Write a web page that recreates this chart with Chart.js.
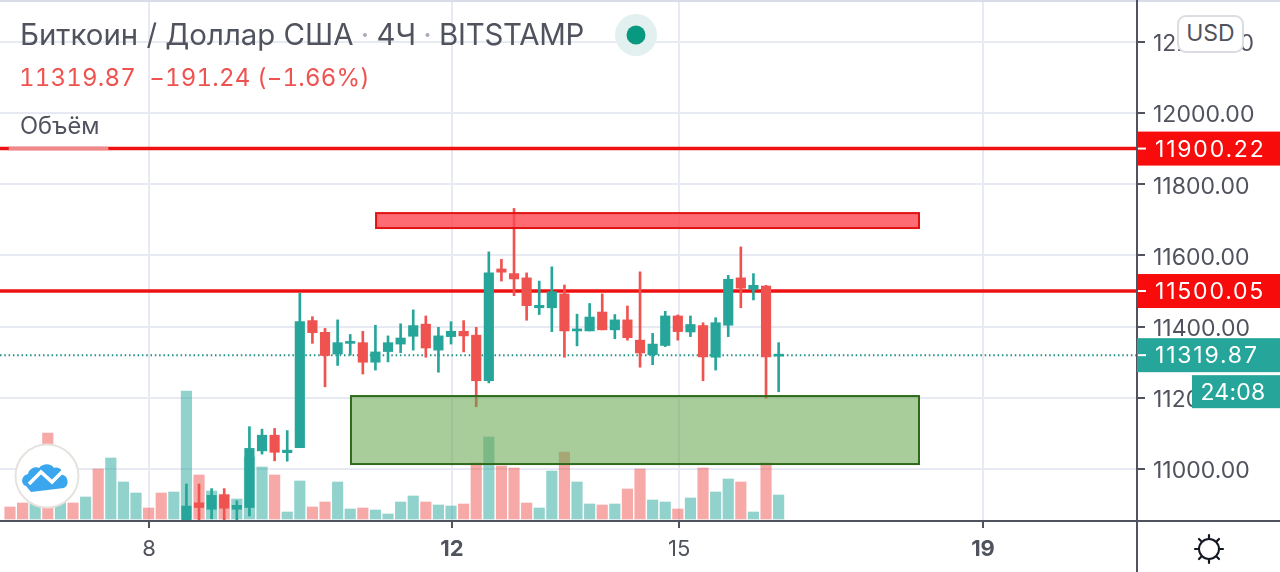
<!DOCTYPE html>
<html>
<head>
<meta charset="utf-8">
<script src="https://cdn.jsdelivr.net/npm/chart.js@4/dist/chart.umd.min.js"></script>
<style>
  html, body { margin: 0; padding: 0; background: #fff; }
  #wrap { position: relative; width: 1280px; height: 572px; overflow: hidden; font-family: Inter, Roboto, sans-serif; }
  canvas { position: absolute; left: 0; top: 0; }
  .txt { position: absolute; white-space: pre; color: #50535e; line-height: 1; }
  .sep { color: #a8abb5; margin: 0 -1px; }
  #usd { position: absolute; left: 1177px; top: 15px; width: 63px; height: 34px; border: 2px solid #dcdde2; border-radius: 9px; background: #fff; color: #50535e; font-size: 23px; line-height: 32px; text-align: center; }
  svg { position: absolute; }
</style>
</head>
<body>
<div id="wrap">
  <canvas id="chart" width="1280" height="572"></canvas>
  <div class="txt" style="left:20px;top:20px;font-size:29.4px">Биткоин / Доллар США <span class="sep">·</span> 4Ч <span class="sep">·</span> <span style="letter-spacing:-0.25px">BITSTAMP</span></div>
  <div class="txt" style="left:19px;top:66px;font-size:24px;color:#ef5350;font-variant-numeric:tabular-nums;letter-spacing:0.2px">11319.87  −191.24 (−1.66%)</div>
  <div class="txt" style="left:20px;top:114px;font-size:23.7px">Объём</div>
  <svg style="left:610px;top:9px" width="52" height="52">
    <circle cx="26" cy="26" r="21" fill="#e2f0ef"/>
    <circle cx="26" cy="26" r="9.5" fill="#089981"/>
  </svg>
  <svg style="left:10px;top:440px" width="74" height="74">
    <circle cx="37" cy="36" r="31.5" fill="#fff" stroke="#e6e2de" stroke-width="2"/>
    <g transform="translate(0,2)">
      <path d="M16 44 C11 43 10 34 18 32 C19 26 26 24 29 26 C33 21 41 21 44 26 C49 24 54 29 52 33 C58 33 60 43 54 46 L21 50 Z" fill="#3aa6ee"/>
      <path d="M19 42 L31 30 L42 40 L53 29" fill="none" stroke="#fff" stroke-width="3.5"/>
    </g>
  </svg>
  <div id="usd">USD</div>
  <svg style="left:1190px;top:530px" width="38" height="38">
    <circle cx="19" cy="19" r="10" fill="none" stroke="#131722" stroke-width="2"/>
    <g stroke="#131722" stroke-width="2.2" stroke-linecap="round">
      <line x1="19" y1="5" x2="19" y2="8"/><line x1="19" y1="30" x2="19" y2="33"/>
      <line x1="5" y1="19" x2="8" y2="19"/><line x1="30" y1="19" x2="33" y2="19"/>
      <line x1="9" y1="9" x2="11" y2="11"/><line x1="27" y1="27" x2="29" y2="29"/>
      <line x1="29" y1="9" x2="27" y2="11"/><line x1="11" y1="27" x2="9" y2="29"/>
    </g>
  </svg>
</div>

<script>
// bars are numbered from the left edge, 0..61. candles only start at bar 14
const firstCandle = 14;
const candleOpen = [10857,10905,10887,10928,10887,10892,11051,11095,11046,11060,11417,11384,11323,11353,11355,11300,11330,11351,11373,11407,11334,11372,11387,11376,11248,11562,11549,11537,11453,11453,11492,11388,11388,11441,11391,11419,11362,11321,11347,11430,11385,11403,11314,11404,11537,11505,11514,11317];
const candleClose = [10896,10892,10926,10890,10898,11058,11095,11047,11053,11414,11383,11319,11355,11358,11300,11329,11355,11368,11403,11340,11374,11387,11374,11248,11551,11553,11534,11459,11460,11498,11388,11393,11427,11391,11419,11369,11326,11351,11430,11386,11406,11315,11411,11533,11508,11516,11315,11320];
const candleHigh = [10958,10958,10945,10945,10911,11119,11112,11114,11108,11494,11428,11395,11419,11378,11387,11404,11374,11408,11447,11430,11398,11414,11417,11398,11610,11589,11732,11551,11528,11568,11517,11435,11465,11492,11434,11458,11554,11381,11443,11433,11430,11411,11425,11544,11624,11549,11516,11355];
const candleLow = [10854,10854,10860,10857,10857,10868,11042,11023,11022,11060,11353,11231,11291,11320,11267,11278,11301,11327,11334,11314,11272,11351,11329,11175,11242,11528,11487,11418,11434,11386,11314,11346,11388,11391,11366,11362,11286,11293,11344,11362,11372,11248,11278,11372,11453,11475,11199,11217];
const volumes = [12,16,16,86,17,16,22,50,61,37,26,11,26,27,128,44,28,24,20,62,52,44,7,38,12,17,37,10,11,9,5,17,23,17,14,13,15,56,82,53,51,16,11,48,67,37,15,14,15,30,50,19,17,10,21,51,27,40,37,7,56,24];
// volume colour of the bars left of the first candle (1 = up)
const earlyUp = [0,0,1,0,1,0,1,0,1,1,1,0,0,1];

const yTicks = [11000,11200,11400,11600,11800,12000,12200];
const xTickPositions = [11.03,35.08,53.1,77.22];
const xTickLabels = ["8","12","15","19"];
const xTickBold = ["12","19"];

const resistanceLevels = [11900.22,11500.05];
const lastPrice = 11319.87;
const countdown = "24:08";
const sellZone = { x0: 29.05, x1: 72.14, lo: 11677, hi: 11719 };
const buyZone = { x0: 27.06, x1: 72.14, lo: 11014, hi: 11205 };

const UP = "#26a69a", DOWN = "#ef5350";
const TEXT = "#50535e", GRID = "#e8eaf3", LEVEL = "#ee1111";
const xMin = -0.794, xMax = 89.44;
const FONT = "Inter, Roboto, sans-serif";

const candleIdx = candleOpen.map((_, i) => i + firstCandle);
const candleColors = candleOpen.map((o, i) => candleClose[i] >= o ? UP : DOWN);
const volumeColors = volumes.map((_, i) => {
  const up = i < firstCandle ? earlyUp[i] : candleClose[i - firstCandle] >= candleOpen[i - firstCandle];
  return up ? "rgba(38,166,154,0.5)" : "rgba(239,83,80,0.5)";
});

function flatLine(y, color, width, from, to, dash) {
  return {
    type: "line",
    data: [{ x: from, y: y }, { x: to, y: y }],
    borderColor: color,
    borderWidth: width,
    borderDash: dash || [],
    pointRadius: 0,
    order: 5
  };
}

// zones and price tags sit on top of everything, placed with the chart's own scales
const overlayPlugin = {
  id: "overlay",
  afterDatasetsDraw(chart) {
    const { ctx, scales: { x, y } } = chart;
    const zone = (z, fill, stroke) => {
      const l = x.getPixelForValue(z.x0), r = x.getPixelForValue(z.x1);
      const t = y.getPixelForValue(z.hi), b = y.getPixelForValue(z.lo);
      ctx.save();
      ctx.fillStyle = fill;
      ctx.strokeStyle = stroke;
      ctx.lineWidth = 2;
      ctx.fillRect(l, t, r - l, b - t);
      ctx.strokeRect(l, t, r - l, b - t);
      ctx.restore();
    };
    zone(sellZone, "rgba(255,70,80,0.8)", "#e31212");
    zone(buyZone, "rgba(104,165,80,0.57)", "#2f6a1c");
  },
  afterDraw(chart) {
    const { ctx, chartArea: area, scales: { y } } = chart;
    ctx.save();
    // frame
    ctx.fillStyle = "#d9dce8";
    ctx.fillRect(0, 0, 1280, 2);
    ctx.fillStyle = TEXT;
    ctx.fillRect(area.right - 1, 0, 2, 572);
    ctx.fillRect(0, area.bottom - 1, 1280, 2);

    const tag = (value, color) => {
      const py = y.getPixelForValue(value);
      ctx.fillStyle = color;
      ctx.fillRect(area.right, py - 17, 1280 - area.right, 34);
      ctx.fillStyle = "#fff";
      ctx.fillRect(area.right + 1, py - 1, 8, 2);
      ctx.font = "23px " + FONT;
      ctx.letterSpacing = "1.8px";
      ctx.textAlign = "left";
      ctx.textBaseline = "middle";
      ctx.fillText(value.toFixed(2), 1155, py + 1);
      ctx.letterSpacing = "0px";
    };
    resistanceLevels.forEach(v => tag(v, "#f80b0b"));
    tag(lastPrice, UP);

    const py = y.getPixelForValue(lastPrice);
    ctx.fillStyle = UP;
    ctx.fillRect(1192, py + 20, 88, 33);
    ctx.fillStyle = "#fff";
    ctx.font = "23px " + FONT;
    ctx.letterSpacing = "0.2px";
    ctx.textAlign = "left";
    ctx.textBaseline = "middle";
    ctx.fillText(countdown, 1200.5, py + 38);
    ctx.restore();
  }
};

new Chart(document.getElementById("chart"), {
  type: "bar",
  plugins: [overlayPlugin],
  data: {
    datasets: [
      {
        label: "volume",
        yAxisID: "vol",
        data: volumes.map((v, i) => ({ x: i, y: v })),
        backgroundColor: volumeColors,
        barThickness: 10.5,
        grouped: false,
        order: 10
      },
      flatLine(lastPrice, "#1f9186", 2, xMin, xMax, [1.5, 2.8]),
      flatLine(resistanceLevels[0], LEVEL, 3.5, xMin, xMax),
      flatLine(resistanceLevels[1], LEVEL, 3.5, xMin, xMax),
      Object.assign(flatLine(resistanceLevels[0], "#f08a8a", 3.5, -0.1, 7.8), { order: 4 }),
      {
        label: "wick",
        data: candleIdx.map((x, i) => ({ x: x, y: [candleLow[i], candleHigh[i]] })),
        backgroundColor: candleColors,
        barThickness: 2,
        grouped: false,
        order: 2
      },
      {
        label: "body",
        data: candleIdx.map((x, i) => ({ x: x, y: [candleOpen[i], candleClose[i]] })),
        backgroundColor: candleColors,
        barThickness: 9.5,
        minBarLength: 2,
        grouped: false,
        order: 1
      }
    ]
  },
  options: {
    responsive: false,
    animation: false,
    layout: { padding: { top: 2, left: 0, right: 0, bottom: 0 } },
    plugins: { legend: { display: false }, tooltip: { enabled: false } },
    scales: {
      x: {
        type: "linear",
        min: xMin,
        max: xMax,
        offset: false,
        afterBuildTicks: s => { s.ticks = xTickPositions.map(v => ({ value: v })); },
        afterFit: s => { s.height = 51; s.paddingLeft = 0; s.paddingRight = 0; },
        grid: { color: GRID, lineWidth: 2, offset: false, tickColor: TEXT, tickLength: 7, tickWidth: 2 },
        border: { display: false },
        ticks: {
          color: TEXT,
          padding: 8,
          maxRotation: 0,
          autoSkip: false,
          callback: v => xTickLabels[xTickPositions.indexOf(v)],
          font: c => ({
            family: FONT,
            size: 22,
            weight: xTickBold.includes(c.tick && xTickLabels[xTickPositions.indexOf(c.tick.value)]) ? "bold" : "normal"
          })
        }
      },
      y: {
        position: "right",
        min: 10854,
        max: 12312,
        afterBuildTicks: s => { s.ticks = yTicks.map(v => ({ value: v })); },
        afterFit: s => { s.width = 143; s.paddingTop = 0; s.paddingBottom = 0; },
        grid: { color: GRID, lineWidth: 2, tickColor: TEXT, tickLength: 8, tickWidth: 2 },
        border: { display: false },
        ticks: {
          color: TEXT,
          padding: 8,
          labelOffset: 2.5,
          font: { family: FONT, size: 23 },
          callback: v => v.toFixed(2)
        }
      },
      vol: { display: false, min: -2, max: 517 }
    }
  }
});
</script>
</body>
</html>
